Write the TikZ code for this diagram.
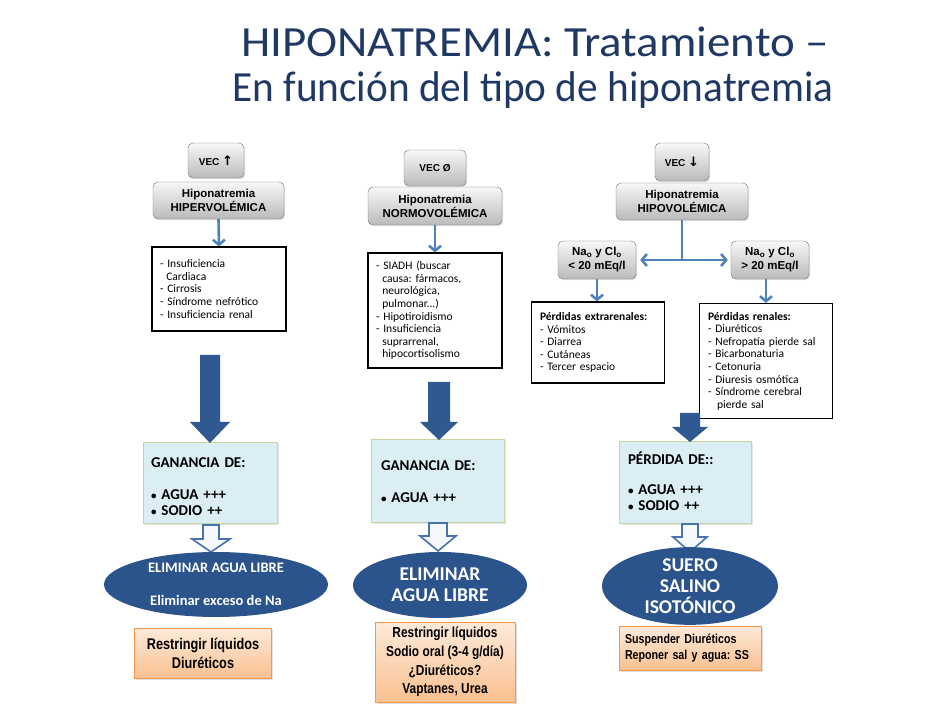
\documentclass[tikz,border=0pt]{standalone}
\usepackage{fontspec}
\setmainfont{Carlito}
\newfontfamily\arialf{Liberation Sans}
\newfontfamily\narrowf[FakeStretch=0.82]{Liberation Sans}
\newfontfamily\symf{DejaVu Sans}
\newfontfamily\titlewide[FakeStretch=1.09]{Carlito}
\newfontfamily\titlenarrow[FakeStretch=0.96]{Carlito}
\usetikzlibrary{arrows.meta,shadows,shapes.geometric,calc}
\definecolor{titleblue}{RGB}{31,56,100}
\definecolor{thinblue}{RGB}{79,129,189}
\definecolor{darkblue}{RGB}{48,88,145}
\definecolor{ellblue}{RGB}{44,84,140}
\definecolor{gboxfill}{RGB}{219,238,244}
\definecolor{gboxdraw}{RGB}{195,214,155}
\definecolor{orfilltop}{RGB}{253,234,218}
\definecolor{orfillbot}{RGB}{250,192,144}
\definecolor{ordraw}{RGB}{247,150,70}
\definecolor{hollowdraw}{RGB}{70,115,175}
\newcommand\blockarr[7]{\path[#7] (#1-#5,#2) -- (#1+#5,#2) -- (#1+#5,#3) -- (#1+#6,#3) -- (#1,#4) -- (#1-#6,#3) -- (#1-#5,#3) -- cycle;}
\newcommand\bul{\raisebox{0.12ex}{\fontsize{11}{11}\selectfont•}}
\frenchspacing
\begin{document}
\begin{tikzpicture}[x=1pt,y=-1pt,
  titletext/.style={text=titleblue, inner sep=0pt},
  graybox/.style={draw=black!55, rounded corners=5pt, top color=black!3, bottom color=black!27,
     font=\arialf\bfseries\fontsize{11.5}{14}\selectfont, align=center, inner sep=0pt,
     drop shadow={opacity=0.25,shadow xshift=1.2pt,shadow yshift=-1.2pt}},
  vecbox/.style={graybox, font=\arialf\bfseries\fontsize{10}{12}\selectfont},
  listbox/.style={draw=black, line width=1.2pt, fill=white, font=\frenchspacing\fontsize{11.5}{12.6}\selectfont,
     align=left, inner sep=0pt},
  gbox/.style={draw=gboxdraw, line width=1pt, fill=gboxfill, font=\bfseries\fontsize{15}{16}\selectfont,
     align=left, inner sep=0pt, drop shadow={opacity=0.2,shadow xshift=1.5pt,shadow yshift=-1.5pt}},
  ell/.style={ellipse, fill=ellblue, text=white, align=center, inner sep=0pt},
  obox/.style={draw=ordraw, line width=0.8pt, top color=orfilltop, bottom color=orfillbot,
     font=\narrowf\bfseries\fontsize{15.5}{18.5}\selectfont, align=center, inner sep=0pt,
     drop shadow={opacity=0.25,shadow xshift=1.5pt,shadow yshift=-1.5pt}},
  thinarrow/.style={draw=thinblue, line width=2.6pt, -{Straight Barb[length=5pt,width=12pt]}},
  thinline/.style={draw=thinblue, line width=2.6pt},
  bigarrow/.style={fill=darkblue},
  hollowarrow/.style={fill=white!94!thinblue, draw=hollowdraw, line width=1.6pt, line join=miter}
]
\fill[white] (0,0) rectangle (946,711);
\path[use as bounding box] (0,0) rectangle (946,711);

% Title
\node[titletext, font=\titlewide\fontsize{43}{48}\selectfont] (t1) at (535,42) {HIPONATREMIA: Tratamiento –};
\node[titletext, font=\titlenarrow\fontsize{43}{48}\selectfont] (t2) at (533,90) {En función del tipo de hiponatremia};

% ---------- Column 1 ----------
\node[vecbox, minimum width=56, minimum height=35] (v1) at (216,160.5) {VEC {\symf\bfseries\fontsize{13}{13}\selectfont ↑}};
\node[graybox, minimum width=131, minimum height=37] (h1) at (218.5,200.5) {Hiponatremia\\HIPERVOLÉMICA};
\node[listbox, minimum width=134, minimum height=84, text width=118] (l1) at (219,289)
  {- Insuficiencia\\\hspace*{0.55em}Cardiaca\\- Cirrosis\\- Síndrome nefrótico\\- Insuficiencia renal};
\draw[thinarrow] (h1.south) -- (l1.north);
\node[gbox, minimum width=134, minimum height=80, text width=118] (g1) at (210,483)
  {\mbox{}\\[2pt]GANANCIA DE:\\[16pt]\bul\ AGUA +++\\\bul\ SODIO ++};
\blockarr{210}{355}{422}{443}{10}{20}{bigarrow}
\blockarr{211}{525}{539}{552}{8}{19}{hollowarrow}
\node[ell, minimum width=224, minimum height=65, font=\bfseries\fontsize{14.5}{15}\selectfont] (e1) at (216,584.5)
  {ELIMINAR AGUA LIBRE\\[18pt]Eliminar exceso de Na};
\node[obox, minimum width=137, minimum height=50] (o1) at (203,653.5) {Restringir líquidos\\Diuréticos};

% ---------- Column 2 ----------
\node[vecbox, minimum width=62, minimum height=36] (v2) at (435,168) {VEC Ø};
\node[graybox, minimum width=134, minimum height=38] (h2) at (435,206) {Hiponatremia\\NORMOVOLÉMICA};
\node[listbox, minimum width=134, minimum height=115, text width=118] (l2) at (435,310.5)
  {- SIADH (buscar\\\hspace*{0.55em}causa: fármacos,\\\hspace*{0.55em}neurológica,\\\hspace*{0.55em}pulmonar...)\\- Hipotiroidismo\\- Insuficiencia\\\hspace*{0.55em}suprarrenal,\\\hspace*{0.55em}hipocortisolismo};
\draw[thinarrow] (h2.south) -- (l2.north);
\node[gbox, minimum width=133, minimum height=82, text width=113] (g2) at (437.5,481)
  {\mbox{}\\[-4pt]GANANCIA DE:\\[16pt]\bul\ AGUA +++};
\blockarr{439}{382}{422}{440}{11}{19}{bigarrow}
\blockarr{438}{523}{536}{551}{9}{18}{hollowarrow}
\node[ell, minimum width=174, minimum height=66, font=\bfseries\fontsize{19.5}{21}\selectfont] (e2) at (440,585)
  {ELIMINAR\\AGUA LIBRE};
\node[obox, minimum width=140, minimum height=80, font=\narrowf\bfseries\fontsize{14.5}{18.7}\selectfont] (o2) at (445,662)
  {Restringir líquidos\\Sodio oral (3-4 g/día)\\¿Diuréticos?\\Vaptanes, Urea};

% ---------- Column 3 ----------
\node[vecbox, minimum width=54, minimum height=38] (v3) at (682,162) {VEC {\symf\bfseries\fontsize{13}{13}\selectfont ↓}};
\node[graybox, minimum width=132, minimum height=37] (h3) at (682,201.5) {Hiponatremia\\HIPOVOLÉMICA};
\node[graybox, minimum width=78, minimum height=38] (nl) at (597,260) {Na\textsubscript{o} y Cl\textsubscript{o}\\< 20 mEq/l};
\node[graybox, minimum width=78, minimum height=38] (nr) at (770,260) {Na\textsubscript{o} y Cl\textsubscript{o}\\> 20 mEq/l};
\coordinate (split) at (682,260);
\draw[thinline] (h3.south) -- (split);
\draw[thinarrow, shorten >=4pt] (split) -- (nl.east);
\draw[thinarrow, shorten >=3pt] (split) -- (nr.west);
\node[listbox, minimum width=133, minimum height=81, text width=116] (xr) at (598,342.5)
  {\textbf{Pérdidas extrarenales:}\\- Vómitos\\- Diarrea\\- Cutáneas\\- Tercer espacio};
\node[listbox, minimum width=133, minimum height=115, text width=116] (rn) at (766,361)
  {\textbf{Pérdidas renales:}\\- Diuréticos\\- Nefropatía pierde sal\\- Bicarbonaturia\\- Cetonuria\\- Diuresis osmótica\\- Síndrome cerebral\\\hspace*{0.8em}pierde sal};
\draw[thinarrow] (nl.south) -- (nl.south |- xr.north);
\draw[thinarrow] (nr.south -| rn.north) -- (rn.north);
\node[gbox, minimum width=132, minimum height=81, text width=114] (g3) at (685,482.5)
  {\mbox{}\\[-5pt]PÉRDIDA DE::\\[14pt]\bul\ AGUA +++\\\bul\ SODIO ++};
\blockarr{690}{413}{427}{442}{10}{18}{bigarrow}
\blockarr{690}{524}{537}{552}{8}{17}{hollowarrow}
\node[ell, minimum width=176, minimum height=68, font=\bfseries\fontsize{19.5}{21}\selectfont] (e3) at (690,586)
  {SUERO\\SALINO\\ISOTÓNICO};
\node[obox, minimum width=142, minimum height=44, text width=130, align=left, font=\narrowf\bfseries\fontsize{13}{16.5}\selectfont] (o3) at (690,648)
  {Suspender Diuréticos\\Reponer sal y agua: SS};
\end{tikzpicture}
\end{document}
